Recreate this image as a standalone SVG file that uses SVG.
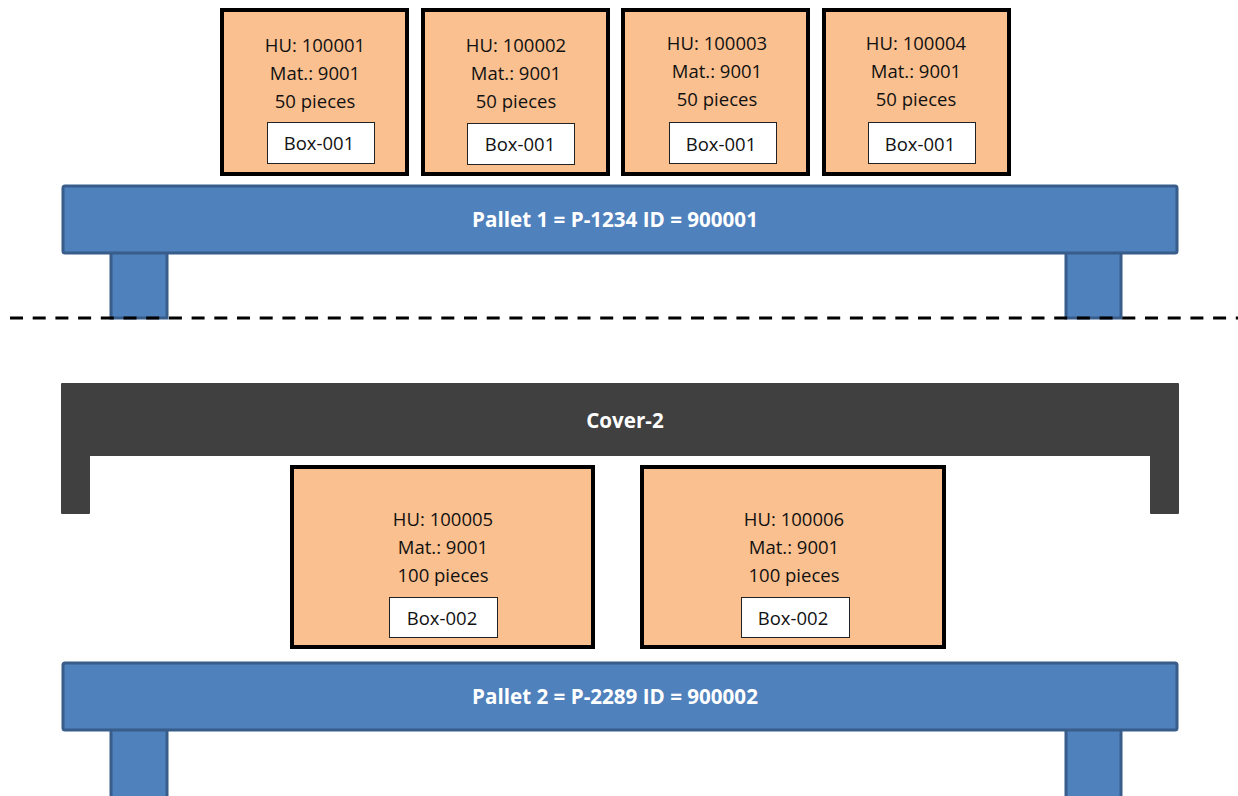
<svg xmlns="http://www.w3.org/2000/svg" width="1238" height="796" viewBox="0 0 1238 796">
<style>
.pal{fill:#4F81BD;stroke:#385D8A;stroke-width:3}
.box{fill:#FAC090;stroke:#000;stroke-width:4}
.lbl{fill:#fff;stroke:#222;stroke-width:1}
.t{font-family:"Open Sans","Liberation Sans",sans-serif;font-size:18.5px;fill:#111;text-anchor:middle}
.b{font-family:"Open Sans","Liberation Sans",sans-serif;font-size:20.6px;font-weight:bold;fill:#fff;text-anchor:middle}
</style>
<rect width="1238" height="796" fill="#fff"/>
<g id="pallet1">
<rect class="pal" x="111" y="250" width="56" height="68"/>
<rect class="pal" x="1066" y="250" width="55" height="68"/>
<rect class="pal" x="63" y="186" width="1114" height="67" rx="2"/>
<text class="b" x="615" y="227">Pallet 1 = P-1234 ID = 900001</text>
</g>
<g id="hu100001">
<rect class="box" x="222" y="10" width="185" height="164"/>
<text class="t" x="315" y="52">HU: 100001</text>
<text class="t" x="315" y="80">Mat.: 9001</text>
<text class="t" x="315" y="108">50 pieces</text>
<rect class="lbl" x="267.5" y="122.5" width="107" height="41"/>
<text class="t" x="319" y="150">Box-001</text>
</g>
<g id="hu100002">
<rect class="box" x="423" y="10" width="185" height="164"/>
<text class="t" x="516" y="52">HU: 100002</text>
<text class="t" x="516" y="80">Mat.: 9001</text>
<text class="t" x="516" y="108">50 pieces</text>
<rect class="lbl" x="467.5" y="123.5" width="107" height="41"/>
<text class="t" x="520" y="151">Box-001</text>
</g>
<g id="hu100003">
<rect class="box" x="623" y="10" width="185" height="164"/>
<text class="t" x="717" y="50">HU: 100003</text>
<text class="t" x="717" y="78">Mat.: 9001</text>
<text class="t" x="717" y="106">50 pieces</text>
<rect class="lbl" x="669.5" y="122.5" width="107" height="41"/>
<text class="t" x="721" y="151">Box-001</text>
</g>
<g id="hu100004">
<rect class="box" x="824" y="10" width="185" height="164"/>
<text class="t" x="916" y="50">HU: 100004</text>
<text class="t" x="916" y="78">Mat.: 9001</text>
<text class="t" x="916" y="106">50 pieces</text>
<rect class="lbl" x="868.5" y="122.5" width="107" height="41"/>
<text class="t" x="920" y="151">Box-001</text>
</g>
<g id="separator">
<line x1="10" y1="318" x2="1238" y2="318" stroke="#000" stroke-width="3" stroke-dasharray="13 9.7"/>
</g>
<g id="cover2">
<path d="M62,384 H1178 V513 H1151 V455 H89 V513 H62 Z" fill="#404040" stroke="#404040" stroke-width="2" stroke-linejoin="round"/>
<text class="b" x="625" y="428">Cover-2</text>
</g>
<g id="hu100005">
<rect class="box" x="292" y="467" width="301" height="180"/>
<text class="t" x="443" y="526">HU: 100005</text>
<text class="t" x="443" y="554">Mat.: 9001</text>
<text class="t" x="443" y="582">100 pieces</text>
<rect class="lbl" x="389.5" y="597.5" width="108" height="40"/>
<text class="t" x="442" y="625">Box-002</text>
</g>
<g id="hu100006">
<rect class="box" x="642" y="467" width="302" height="180"/>
<text class="t" x="794" y="526">HU: 100006</text>
<text class="t" x="794" y="554">Mat.: 9001</text>
<text class="t" x="794" y="582">100 pieces</text>
<rect class="lbl" x="741.5" y="597.5" width="108" height="40"/>
<text class="t" x="793" y="625">Box-002</text>
</g>
<g id="pallet2">
<rect class="pal" x="111" y="727" width="56" height="80"/>
<rect class="pal" x="1066" y="727" width="55" height="80"/>
<rect class="pal" x="63" y="663" width="1114" height="67" rx="2"/>
<text class="b" x="615" y="704">Pallet 2 = P-2289 ID = 900002</text>
</g>
</svg>
